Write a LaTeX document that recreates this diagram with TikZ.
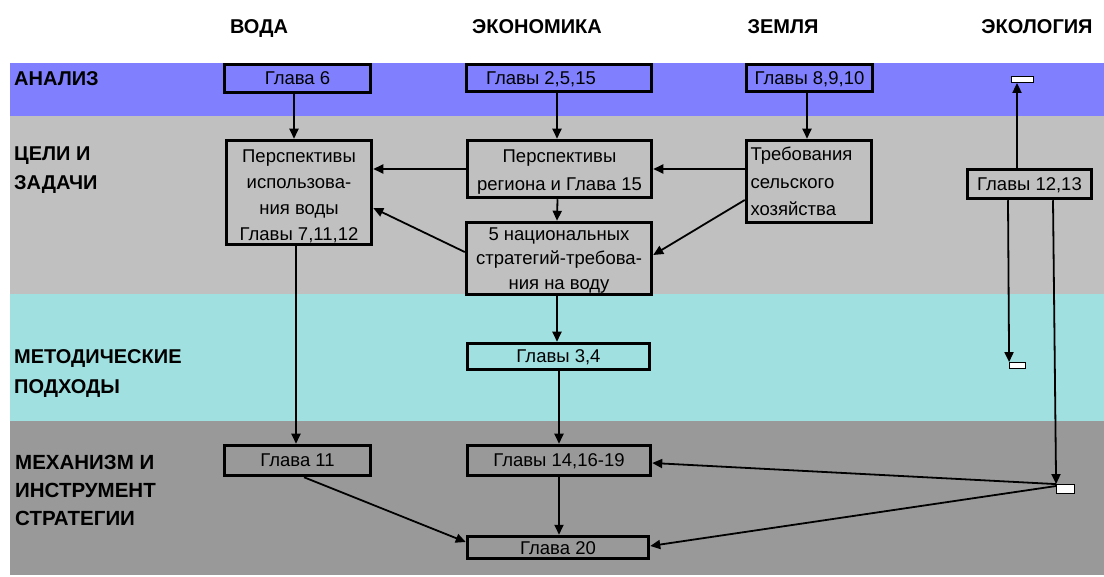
\documentclass[tikz,border=0pt]{standalone}
\usepackage{fontspec}
\setmainfont{Liberation Sans}
\usetikzlibrary{arrows.meta}
\definecolor{bandA}{HTML}{8080FF}
\definecolor{bandB}{HTML}{C0C0C0}
\definecolor{bandC}{HTML}{A0E0E0}
\definecolor{bandD}{HTML}{999999}

\begin{document}
\begin{tikzpicture}[x=1pt,y=-1pt,
  chap/.style={draw, line width=3.5pt, rectangle, inner sep=0pt,
    font=\fontsize{18.5}{26}\selectfont, align=center},
  oneline/.style={chap, text height=13pt, text depth=0pt},
  tag/.style={draw, line width=0.8pt, fill=white, inner sep=0pt},
  lab/.style={anchor=north west, align=left, inner sep=0pt,
    font=\bfseries\fontsize{20}{29}\selectfont},
  head/.style={anchor=base, inner sep=0pt, font=\bfseries\fontsize{20}{22}\selectfont},
  link/.style={line width=1.8pt, -{Triangle[length=10pt,width=9pt]}}
]
\useasboundingbox (0,0) rectangle (1104,577);

% horizontal bands
\fill[bandA] (10,63) rectangle (1104,116);
\fill[bandB] (10,116) rectangle (1104,294);
\fill[bandC] (10,294) rectangle (1104,421);
\fill[bandD] (10,421) rectangle (1104,575);

% column headings
\node[head] (hWater) at (259,34) {ВОДА};
\node[head] (hEcon) at (537,34) {ЭКОНОМИКА};
\node[head] (hLand) at (783,34) {ЗЕМЛЯ};
\node[head] (hEco) at (1037,34) {ЭКОЛОГИЯ};

% row headings
\node[lab] (rAn) at (14,71) {АНАЛИЗ};
\node[lab, font=\bfseries\fontsize{20}{29}\selectfont] (rGoal) at (14,147) {ЦЕЛИ И\\ЗАДАЧИ};
\node[lab, font=\bfseries\fontsize{20}{30}\selectfont] (rMeth) at (14,349) {МЕТОДИЧЕСКИЕ\\ПОДХОДЫ};
\node[lab, font=\bfseries\fontsize{20.5}{28}\selectfont] (rMech) at (15,455) {МЕХАНИЗМ И\\ИНСТРУМЕНТ\\СТРАТЕГИИ};

% analysis row
\node[oneline, minimum width=146pt, minimum height=28pt] (g6) at (297.5,78.5) {Глава 6};
\node[oneline, minimum width=185pt, minimum height=27pt] (g2515) at (559,78) {Главы 2,5,15\hspace*{36pt}};
\node[oneline, minimum width=126pt, minimum height=27pt] (g8910) at (809.5,78) {Главы 8,9,10};
\node[tag, minimum width=22pt, minimum height=6pt] (anSmall) at (1022.5,79.5) {};

% goals row (text height = span from first cap line to last baseline)
\node[chap, minimum width=145pt, minimum height=104pt, text height=96pt, text depth=0pt,
  font=\fontsize{18.5}{26}\selectfont] (pv) at (299,192.5)
  {Перспективы\\использова-\\ния воды\\Главы 7,11,12};
\node[chap, minimum width=184pt, minimum height=57pt, text height=43pt, text depth=0pt,
  font=\fontsize{18.5}{28}\selectfont] (pr) at (559.5,169)
  {Перспективы\\региона и Глава 15};
\node[chap, minimum width=125pt, minimum height=82pt, align=left, inner xsep=4pt,
  text width=117pt, font=\fontsize{18.5}{27.5}\selectfont] (tr) at (809,181.5)
  {Требования\\сельского\\хозяйства};
\node[oneline, minimum width=124pt, minimum height=29pt] (g1213) at (1029.5,184) {Главы 12,13};
\node[chap, minimum width=185pt, minimum height=72pt, text height=62pt, text depth=0pt,
  font=\fontsize{18.5}{24.5}\selectfont] (ns) at (559,258.5)
  {5 национальных\\стратегий-требова-\\ния на воду};

% methods row
\node[oneline, minimum width=182pt, minimum height=26pt] (g34) at (558.5,356.5) {Главы 3,4};
\node[tag, minimum width=16pt, minimum height=6pt] (mtSmall) at (1017.5,365.5) {};

% mechanisms row
\node[oneline, minimum width=146pt, minimum height=30pt] (g11) at (297.5,460.5) {Глава 11};
\node[oneline, minimum width=183pt, minimum height=30pt] (g1416) at (559,460.5) {Главы 14,16-19};
\node[oneline, minimum width=181pt, minimum height=22pt] (g20) at (558,547.5) {Глава 20};
\node[tag, minimum width=18pt, minimum height=9pt] (mhSmall) at (1065.5,489) {};

% connectors
\draw[link] ([xshift=-3.5pt]g6.south) -- ([xshift=-5pt]pv.north);
\draw[link] ([xshift=-2pt]g2515.south) -- ([xshift=-2.5pt]pr.north);
\draw[link] ([xshift=-2.5pt]g8910.south) -- ([xshift=-2pt]tr.north);
\draw[link] ([xshift=-12.5pt]g1213.north) -- ([xshift=-5.5pt]anSmall.south);
\draw[link] (pr.west) -- (pr.west -| pv.east);
\draw[link] (tr.west |- pr.east) -- (pr.east);
\draw[link] ([yshift=6.5pt]ns.west) -- ([yshift=-15.5pt]pv.east);
\draw[link] ([yshift=-18.5pt]tr.west) -- ([yshift=3.5pt]ns.east);
\draw[link] ([xshift=-2pt]pr.south) -- ([xshift=-2pt]ns.north);
\draw[link] ([xshift=-2pt]ns.south) -- ([xshift=-1.5pt]g34.north);
\draw[link] ([xshift=-3pt]pv.south) -- ([xshift=-1.5pt]g11.north);
\draw[link] ([xshift=0.5pt]g34.south) -- ([xshift=0.5pt]g34.south |- g1416.north);
\draw[link] (g1416.south) -- (g1416.south |- g20.north);
\draw[link] ([xshift=6.5pt]g11.south) -- ([yshift=5.5pt]g20.west);
\draw[link] ([xshift=-21.5pt]g1213.south) -- (mtSmall.north west);
\draw[link] ([xshift=23.5pt]g1213.south) -- (mhSmall.north west);
\draw[link] (mhSmall.north west) -- ([yshift=-2.5pt]g1416.east);
\draw[link] ([yshift=3pt]mhSmall.west) -- ([yshift=1.5pt]g20.east);
\end{tikzpicture}
\end{document}
